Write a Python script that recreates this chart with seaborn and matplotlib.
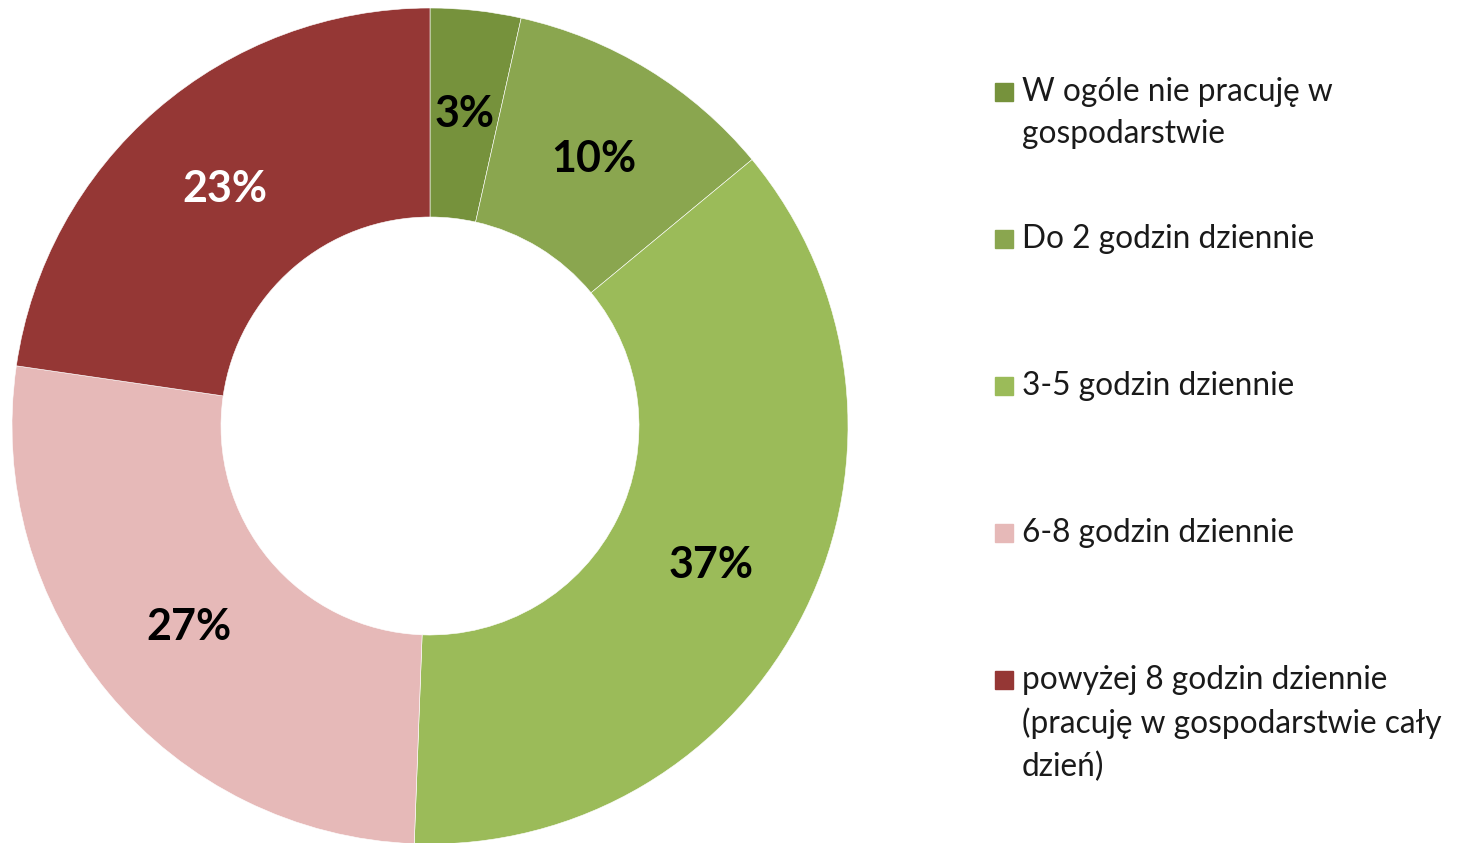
import matplotlib
matplotlib.use("Agg")
import matplotlib.pyplot as plt
import seaborn as sns

# categories and shares
categories = ["W ogóle nie pracuję w\ngospodarstwie",
              "Do 2 godzin dziennie",
              "3-5 godzin dziennie",
              "6-8 godzin dziennie",
              "powyżej 8 godzin dziennie\n(pracuję w gospodarstwie cały\ndzień)"]
shares = [3.5, 10.5, 36.6, 26.7, 22.7]
pct_labels = ["3%", "10%", "37%", "27%", "23%"]

colors = sns.color_palette(["#76923C", "#8AA64F", "#9BBB59", "#E6B9B8", "#953735"])
label_colors = ["black", "black", "black", "black", "white"]

sns.set_theme(style="white")
plt.rcParams['font.family'] = ['Lato', 'DejaVu Sans']

W, H = 1462, 843
fig = plt.figure(figsize=(W / 100, H / 100), dpi=100)

# donut centre (430, 426) px from top-left, radius 418 px
cx, cy, r = 430, 426, 418
ax = fig.add_axes([(cx - r) / W, (H - cy - r) / H, 2 * r / W, 2 * r / H])
wedges, texts, autotexts = ax.pie(
    shares, colors=colors, startangle=90, counterclock=False,
    radius=1, autopct="%1.0f%%", pctdistance=0.75,
    wedgeprops=dict(width=0.5, edgecolor="white", linewidth=0.4),
)
for t, lab, c in zip(autotexts, pct_labels, label_colors):
    t.set_text(lab)
    t.set_color(c)
    t.set_fontsize(31)
    t.set_fontweight("bold")
for w in wedges:
    w.set_clip_on(False)
ax.set_xlim(-1, 1)
ax.set_ylim(-1, 1)
ax.set_aspect("equal")
ax.axis("off")

# legend, entries spread evenly like in the original
for i, (lab, col) in enumerate(zip(categories, colors)):
    ytop = 77 + i * 147
    fig.patches.append(plt.Rectangle((995 / W, 1 - (ytop + 24) / H), 18 / W, 18 / H,
                                     transform=fig.transFigure, color=col))
    fig.text(1022 / W, 1 - ytop / H, lab, ha="left", va="top",
             fontsize=22.8, color="#1a1a1a", linespacing=1.5)

fig.savefig("out.png", dpi=100)
